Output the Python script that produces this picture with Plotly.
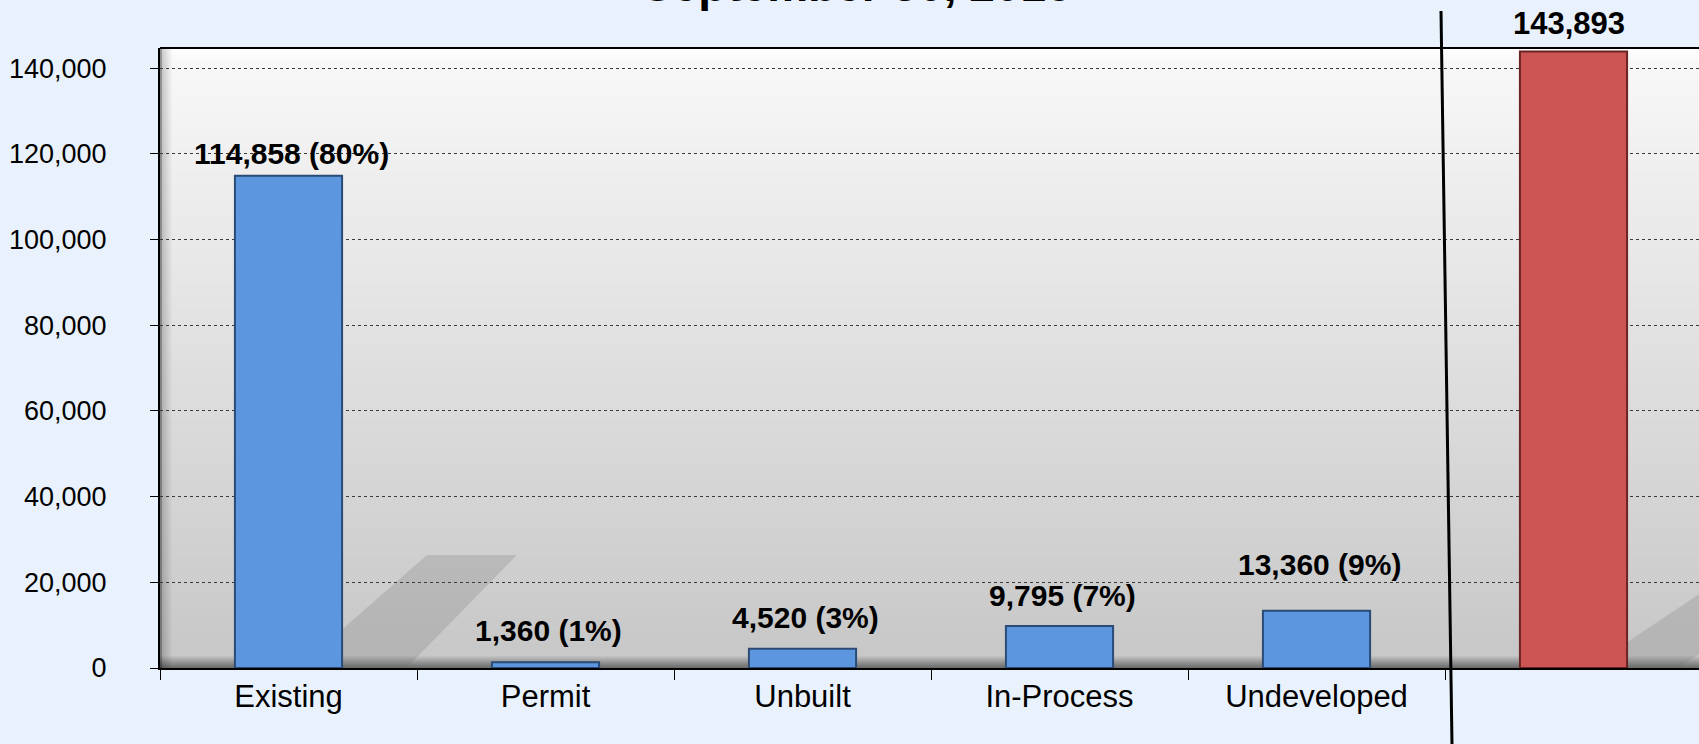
import base64
import struct
import zlib

import numpy as np
import plotly.graph_objects as go

# ---- data ----
categories = ["Existing", "Permit", "Unbuilt", "In-Process", "Undeveloped"]
values = [114858, 1360, 4520, 9795, 13360]
total_category = " "
total_value = 143893
title_text = "September 30, 2016"
y_tick_vals = [0, 20000, 40000, 60000, 80000, 100000, 120000, 140000]

# ---- style ----
W, H = 1699, 744
ML, MR, MT, MB = 160, 0, 48, 76
PW, PH = W - ML - MR, H - MT - MB
FONT = "Liberation Sans"
PAGE_BG = "#e9f2fc"
BLUE = "#5b96df"
BLUE_EDGE = "#2b4b76"
RED = "#cc5553"
RED_EDGE = "#6b2424"
BAR_W = 0.417
label_yshift = [4, 13, 13, 12, 28]
total_yshift = 8


def png_data_uri(arr):
    h, w, _ = arr.shape
    raw = b"".join(b"\x00" + arr[i].tobytes() for i in range(h))

    def chunk(tag, data):
        c = struct.pack(">I", len(data)) + tag + data
        return c + struct.pack(">I", zlib.crc32(tag + data) & 0xFFFFFFFF)

    png = b"\x89PNG\r\n\x1a\n"
    png += chunk(b"IHDR", struct.pack(">IIBBBBB", w, h, 8, 2, 0, 0, 0))
    png += chunk(b"IDAT", zlib.compress(raw, 9))
    png += chunk(b"IEND", b"")
    return "data:image/png;base64," + base64.b64encode(png).decode()


# plot-area background: vertical grey gradient with a 3D floor and left wall
rows = np.arange(PH, dtype=float)
t = rows / (PH - 1)
base = 249 - 50 * t
top_band = np.clip(1 - rows / 14, 0, 1)
base = base + (255 - base) * top_band
img = np.repeat(base[:, None], PW, axis=1)
floor = 12
for k in range(floor):
    r = PH - floor + k
    f = (k + 1) / floor
    img[r, :] = img[r, :] * (1 - 0.45 * f)
wall = 12
for c in range(wall):
    f = 1 - c / wall
    img[:, c] = img[:, c] * (1 - 0.22 * f)
img[:, 0:2] = img[:, 0:2] * 0.75
img = np.clip(img, 0, 255).astype(np.uint8)
bg_uri = png_data_uri(np.stack([img, img, img], axis=2))

fig = go.Figure()
fig.add_trace(
    go.Bar(
        x=categories,
        y=values,
        width=BAR_W,
        marker=dict(color=BLUE, line=dict(color=BLUE_EDGE, width=2)),
        hoverinfo="x+y",
        showlegend=False,
    )
)
fig.add_trace(
    go.Bar(
        x=[total_category],
        y=[total_value],
        width=BAR_W,
        marker=dict(color=RED, line=dict(color=RED_EDGE, width=2)),
        hoverinfo="y",
        showlegend=False,
    )
)

annotations = []
for cat, val, ys in zip(categories, values, label_yshift):
    pct = round(val / total_value * 100)
    annotations.append(
        dict(
            x=cat, y=val, xref="x", yref="y",
            text=f"<b>{val:,} ({pct}%)</b>",
            showarrow=False, yanchor="bottom", yshift=ys, xshift=3,
            font=dict(family=FONT, size=30, color="black"),
        )
    )
annotations.append(
    dict(
        x=total_category, y=total_value, xref="x", yref="y",
        text=f"<b>{total_value:,}</b>",
        showarrow=False, yanchor="bottom", yshift=total_yshift, xshift=-5,
        font=dict(family=FONT, size=31, color="black"),
    )
)
annotations.append(
    dict(
        x=(857 - ML) / PW, y=1, xref="paper", yref="paper",
        text=f"<b>{title_text}</b>",
        showarrow=False, yanchor="bottom", yshift=35,
        font=dict(family=FONT, size=46, color="black"),
    )
)

# soft 3D drop shadows behind the two tall bars (decoration, in axis units)
shadow_fill = "rgba(110,110,110,0.22)"
n_all = len(categories) + 1
ex_right = 0 + BAR_W / 2
tot_right = (n_all - 1) + BAR_W / 2
shapes = [
    dict(type="path", xref="x", yref="y", layer="below",
         path=(f"M {ex_right},0 L {ex_right},9000 L {ex_right + 0.33},26400 "
               f"L {ex_right + 0.68},26400 L {ex_right + 0.25},0 Z"),
         fillcolor=shadow_fill, line=dict(width=0)),
    dict(type="path", xref="x", yref="y", layer="below",
         path=(f"M {tot_right},0 L {tot_right},6000 L {tot_right + 0.4},22000 "
               f"L {tot_right + 0.4},8000 L {tot_right + 0.2},0 Z"),
         fillcolor=shadow_fill, line=dict(width=0)),
    # top frame line
    dict(type="line", xref="paper", yref="paper", x0=0, x1=1, y0=1, y1=1,
         line=dict(color="black", width=2)),
    # divider line between components and total
    dict(type="line", xref="paper", yref="paper",
         x0=(1441 - ML) / PW, x1=(1452 - ML) / PW,
         y0=(H - MB - 11) / PH, y1=(H - MB - 744) / PH,
         line=dict(color="black", width=3)),
]

fig.update_layout(
    width=W,
    height=H,
    margin=dict(l=ML, r=MR, t=MT, b=MB, pad=0),
    paper_bgcolor=PAGE_BG,
    plot_bgcolor="#dcdcdc",
    font=dict(family=FONT, size=29, color="black"),
    annotations=annotations,
    shapes=shapes,
    images=[
        dict(source=bg_uri, xref="paper", yref="paper", x=0, y=1,
             sizex=1, sizey=1, sizing="stretch", xanchor="left",
             yanchor="top", layer="below")
    ],
    xaxis=dict(
        type="category",
        categoryorder="array",
        categoryarray=categories + [total_category],
        range=[-0.5, 5.5 - 3 / 257],
        tickson="boundaries",
        ticks="outside",
        ticklen=10,
        tickwidth=1,
        tickcolor="black",
        showline=True,
        linecolor="black",
        linewidth=2,
        showgrid=False,
        tickfont=dict(family=FONT, size=31, color="black"),
        fixedrange=True,
    ),
    yaxis=dict(
        range=[0, 144700],
        tickvals=y_tick_vals,
        tickformat=",",
        ticks="outside",
        ticklen=8,
        tickwidth=1,
        tickcolor="black",
        ticklabelstandoff=38,
        showline=True,
        linecolor="black",
        linewidth=2,
        showgrid=True,
        gridcolor="#3a3a3a",
        gridwidth=1,
        griddash="dot",
        zeroline=False,
        tickfont=dict(family=FONT, size=27, color="black"),
        fixedrange=True,
    ),
)

fig.write_html(
    "out.html",
    config={"displayModeBar": False},
    post_script="document.body.style.margin='0';document.body.style.overflow='hidden';",
)
